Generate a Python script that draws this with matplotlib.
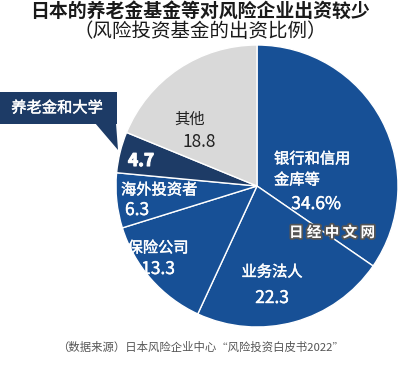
import matplotlib
matplotlib.use("Agg")
import matplotlib.pyplot as plt
from matplotlib.patches import Polygon, Rectangle
import matplotlib.patheffects as pe

plt.rcParams['font.family'] = ['Noto Sans CJK SC', 'DejaVu Sans']

# data (share of venture fund investment, %)
labels = ['银行和信用\n金库等', '业务法人', '保险公司', '海外投资者', '养老金和大学', '其他']
values = [34.6, 22.3, 13.3, 6.3, 4.7, 18.8]
value_text = ['34.6%', '22.3', '13.3', '6.3', '4.7', '18.8']
colors = ['#175096', '#175096', '#175096', '#175096', '#1d3b66', '#d9d9d9']

fig = plt.figure(figsize=(4, 3.72), dpi=100)
ax = fig.add_axes([0, 0, 1, 1])

# pie, clockwise from 12 o'clock
ax.pie(values, colors=colors, startangle=90, counterclock=False,
       center=(257, 186), radius=141, frame=True,
       wedgeprops=dict(edgecolor='white', linewidth=1))
ax.set_xlim(0, 400)
ax.set_ylim(0, 372)
ax.set_aspect('equal')
ax.axis('off')

# titles
fig.text(0.5, 0.969, '日本的养老金基金等对风险企业出资较少', ha='center', va='center',
         fontsize=13.6, fontweight='bold', color='#1a1a1a')
fig.text(0.5, 0.915, '（风险投资基金的出资比例）', ha='center', va='center',
         fontsize=14, color='#1a1a1a')

# slightly heavier white text
semi = [pe.withStroke(linewidth=0.3, foreground='white')]

# slice labels
lab_kw = dict(color='white', fontsize=11, va='center', path_effects=semi)
num_kw = dict(color='white', fontsize=12.5, va='center', path_effects=semi)
ax.text(274, 372 - 159, '银行和信用', ha='left', **lab_kw)
ax.text(274, 372 - 180, '金库等', ha='left', **lab_kw)
ax.text(316, 372 - 204, value_text[0], ha='center', **num_kw)

ax.text(272, 372 - 272, labels[1], ha='center', **lab_kw)
ax.text(272, 372 - 298, value_text[1], ha='center', **num_kw)

ax.text(158, 372 - 248, labels[2], ha='center', **lab_kw)
ax.text(158, 372 - 269, value_text[2], ha='center', **num_kw)

ax.text(121, 372 - 190, labels[3], ha='left', **lab_kw)
ax.text(125, 372 - 210, value_text[3], ha='left', **num_kw)

ax.text(128, 372 - 161, value_text[4], ha='left', color='white', fontsize=12.5,
        va='center', fontweight='bold',
        path_effects=[pe.withStroke(linewidth=0.8, foreground='white')])

ax.text(190, 372 - 119, labels[5], ha='center', fontsize=11, color='#222222', va='center')
ax.text(199, 372 - 142, value_text[5], ha='center', fontsize=12.5, color='#222222', va='center')

# callout for pension & university
box_col = '#1d3b66'
ax.add_patch(Rectangle((0, 372 - 124), 117, 32, facecolor=box_col, edgecolor='none'))
ax.add_patch(Polygon([(95, 372 - 123), (116, 372 - 123), (118, 372 - 150)],
                     closed=True, facecolor=box_col, edgecolor='none'))
ax.text(57, 372 - 108, labels[4], ha='center', va='center', color='white', fontsize=11,
        path_effects=semi)

# watermark
ax.text(332, 372 - 232, '日 经 中 文 网', ha='center', va='center', color='white',
        fontsize=10.5, fontweight='bold',
        path_effects=[pe.withStroke(linewidth=2.5, foreground='#555555')])

# source
fig.text(0.5, 0.067, '（数据来源）日本风险企业中心“风险投资白皮书2022”', ha='center',
         va='center', fontsize=8.2, color='#555555')

fig.savefig('out.png', dpi=100)
